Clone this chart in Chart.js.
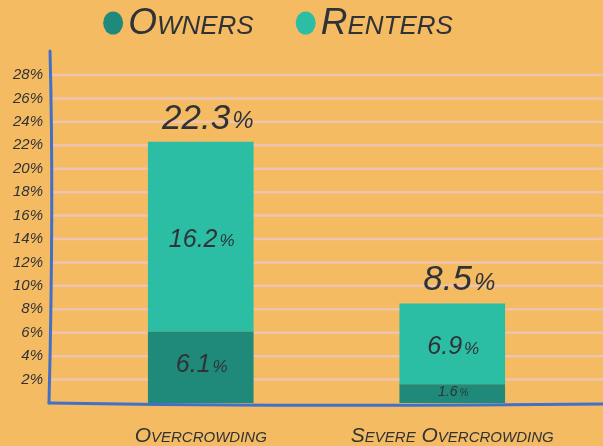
<!DOCTYPE html>
<html>
<head>
<meta charset="utf-8">
<script src="https://cdn.jsdelivr.net/npm/chart.js@4.4.1/dist/chart.umd.min.js"></script>
<style>
  html, body { margin: 0; padding: 0; background: #f4bb63; }
  #wrap { width: 603px; height: 446px; }
</style>
</head>
<body>
<div id="wrap"><canvas id="chart"></canvas></div>
<script>
const categories = ["Overcrowding", "Severe Overcrowding"];
const owners = [6.1, 1.6];
const renters = [16.2, 6.9];
const totals = [22.3, 8.5];
const yMax = 28;
const yStep = 2;

const INK = "#2f3236";
const FAMILY = "'Liberation Sans', Arial, sans-serif";

// number with a smaller % sign, centred on x
function pctText(ctx, value, x, y, size){
    const num = value.toFixed(1);
    const small = Math.round(size * 0.68);
    ctx.font = "italic " + size + "px " + FAMILY;
    const w1 = ctx.measureText(num).width;
    ctx.font = "italic " + small + "px " + FAMILY;
    const w2 = ctx.measureText("%").width;
    let left = x - (w1 + w2) / 2;
    ctx.textAlign = "left";
    ctx.textBaseline = "middle";
    ctx.fillStyle = INK;
    ctx.font = "italic " + size + "px " + FAMILY;
    ctx.fillText(num, left, y);
    ctx.font = "italic " + small + "px " + FAMILY;
    ctx.fillText("%", left + w1 + 2, y + size * 0.08);
}

// legend drawn by hand: blob + small caps name
function drawLegend(chart){
    const ctx = chart.ctx;
    const sets = chart.data.datasets;
    const font = "italic small-caps 37px " + FAMILY;
    ctx.font = font;
    const widths = sets.map(d => ctx.measureText(d.label).width);
    const blob = 20, gap = 5, between = 42;
    let total = 0;
    widths.forEach((w, i) => { total += blob + gap + w + (i ? between : 0); });
    let x = 278 - total / 2;
    const y = 23;
    sets.forEach((d, i) => {
        ctx.fillStyle = d.backgroundColor;
        ctx.beginPath();
        ctx.ellipse(x + blob / 2, y, 10, 11.5, 0, 0, Math.PI * 2);
        ctx.fill();
        x += blob + gap;
        ctx.fillStyle = INK;
        ctx.font = font;
        ctx.textAlign = "left";
        ctx.textBaseline = "middle";
        ctx.fillText(d.label, x, y + 1);
        x += widths[i] + between;
    });
}

const sketch = {
    id: "sketch",
    beforeDatasetsDraw(chart){
        const ctx = chart.ctx;
        const y = chart.scales.y;
        ctx.save();
        ctx.strokeStyle = "#eec4ae";
        ctx.lineWidth = 2.5;
        y.ticks.forEach(t => {
            if (t.value === 0) return;
            const py = y.getPixelForValue(t.value);
            ctx.beginPath();
            ctx.moveTo(52, py);
            ctx.lineTo(chart.width, py);
            ctx.stroke();
        });
        ctx.restore();
    },
    afterDatasetsDraw(chart){
        const ctx = chart.ctx;
        const area = chart.chartArea;
        ctx.save();
        // hand drawn axes
        ctx.strokeStyle = "#4270c6";
        ctx.lineWidth = 3;
        ctx.lineCap = "round";
        ctx.beginPath();
        ctx.moveTo(50, 51);
        ctx.quadraticCurveTo(54, 200, 49, area.bottom);
        ctx.stroke();
        ctx.beginPath();
        ctx.moveTo(49, area.bottom);
        ctx.quadraticCurveTo(300, area.bottom + 4, chart.width, area.bottom + 1);
        ctx.stroke();

        const mo = chart.getDatasetMeta(0);
        const mr = chart.getDatasetMeta(1);
        mo.data.forEach((el, i) => {
            const h = Math.abs(el.base - el.y);
            pctText(ctx, owners[i], el.x, (el.y + el.base) / 2 - 2, h < 30 ? 14 : 25);
        });
        mr.data.forEach((el, i) => {
            pctText(ctx, renters[i], el.x, (el.y + el.base) / 2 + 3, 25);
            pctText(ctx, totals[i], el.x + 6, el.y - 23, 35);
        });
        drawLegend(chart);
        ctx.restore();
    }
};

new Chart(document.getElementById("chart"), {
    type: "bar",
    data: {
        labels: categories,
        datasets: [
            { label: "Owners", data: owners, backgroundColor: "#1f8a79" },
            { label: "Renters", data: renters, backgroundColor: "#2bbea4" }
        ]
    },
    options: {
        responsive: true,
        maintainAspectRatio: false,
        animation: false,
        layout: { padding: { top: 75, right: 25, bottom: 0, left: 0 } },
        datasets: { bar: { categoryPercentage: 1, barPercentage: 0.42 } },
        plugins: {
            legend: { display: false },
            tooltip: { enabled: false }
        },
        scales: {
            x: {
                stacked: true,
                afterFit(scale){ scale.height = 43; },
                grid: { display: false, drawTicks: false },
                border: { display: false },
                ticks: {
                    padding: 21,
                    color: INK,
                    font: { family: FAMILY, size: 21, style: "italic", weight: "small-caps" }
                }
            },
            y: {
                stacked: true,
                min: 0,
                max: yMax,
                afterFit(scale){ scale.width = 75; },
                grid: { display: false, drawTicks: false },
                border: { display: false },
                ticks: {
                    stepSize: yStep,
                    padding: 32,
                    color: INK,
                    font: { family: FAMILY, size: 15, style: "italic" },
                    callback: v => v === 0 ? "" : v + "%"
                }
            }
        }
    },
    plugins: [sketch]
});
</script>
</body>
</html>
